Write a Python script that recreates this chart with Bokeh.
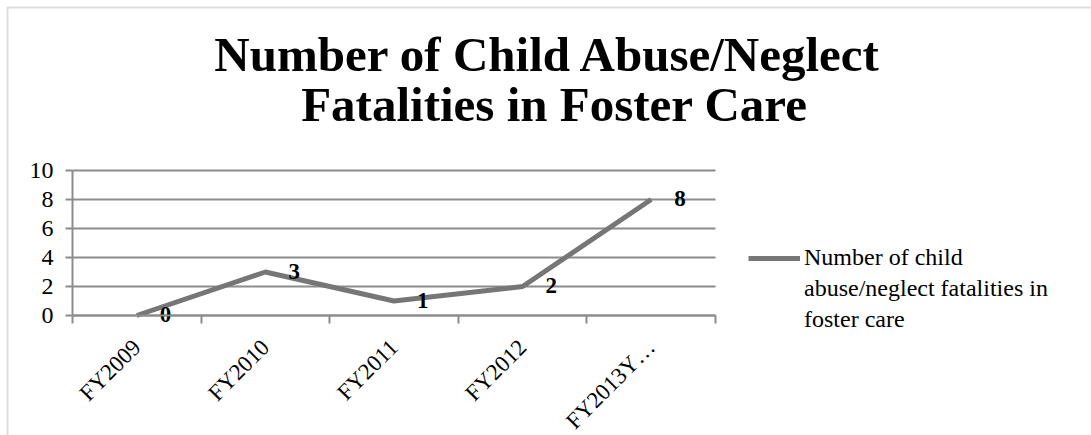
from bokeh.plotting import figure
from bokeh.models import (FixedTicker, Legend, LegendItem, Range1d, Label,
                          ColumnDataSource, BoxAnnotation, LinearAxis)
from bokeh.core.properties import value
from bokeh.embed import file_html
from bokeh.resources import INLINE

categories = ["FY2009", "FY2010", "FY2011", "FY2012", "FY2013Y\u2026"]
fatalities = [0, 3, 1, 2, 8]
y_ticks = [0, 2, 4, 6, 8, 10]
y_max = 10
title_text = "Number of  Child Abuse/Neglect\nFatalities in Foster Care"
legend_lines = ["Number of child", "abuse/neglect fatalities in", "foster care"]

FONT = "Liberation Serif"
GRID = "#8c8c8c"
LINE = "#767676"

W, H = 1091, 435
# plot-area placement in pixels (layout only)
PX_L, PX_R, PX_T, PX_B = 72, 715, 170, 315
n = len(categories)
sx = (PX_R - PX_L) / n
sy = (PX_B - PX_T) / y_max
x_range = Range1d(-PX_L / sx, (W - PX_L) / sx)
y_range = Range1d(-(H - PX_B) / sy, PX_B / sy)

xs = [i + 0.5 for i in range(n)]
src = ColumnDataSource(data=dict(x=xs, y=fatalities,
                                 lbl=[str(v) for v in fatalities]))
grid_src = ColumnDataSource(data=dict(x0=[0] * len(y_ticks), x1=[n] * len(y_ticks),
                                      y=y_ticks))

p = figure(width=W, height=H, output_backend="svg", toolbar_location=None,
           x_range=x_range, y_range=y_range, min_border=0, title=None,
           x_axis_location=None, y_axis_location=None)
p.outline_line_color = None
p.background_fill_color = "white"
p.border_fill_color = "white"
p.xgrid.visible = False
p.ygrid.visible = False

# outer chart border (top + left visible)
p.add_layout(BoxAnnotation(left=7, right=W + 50, bottom=-50, top=H - 7,
                           left_units="screen", right_units="screen",
                           bottom_units="screen", top_units="screen",
                           fill_alpha=0, line_color=GRID, line_width=2))

# horizontal gridlines
p.segment(x0="x0", x1="x1", y0="y", y1="y", source=grid_src,
          line_color=GRID, line_width=2)

yaxis = LinearAxis(fixed_location=0, bounds=(0, y_max), ticker=FixedTicker(ticks=y_ticks))
yaxis.axis_line_color = GRID
yaxis.axis_line_width = 2
yaxis.major_tick_line_color = GRID
yaxis.major_tick_line_width = 2
yaxis.major_tick_out = 7
yaxis.major_tick_in = 0
yaxis.minor_tick_line_color = None
yaxis.major_label_text_font = FONT
yaxis.major_label_text_font_size = "24px"
yaxis.major_label_text_color = "black"
yaxis.major_label_standoff = 12
p.add_layout(yaxis, "left")

xaxis = LinearAxis(fixed_location=0, bounds=(0, n),
                   ticker=FixedTicker(ticks=xs, minor_ticks=list(range(n + 1))))
xaxis.major_label_overrides = {x: c for x, c in zip(xs, categories)}
xaxis.axis_line_color = GRID
xaxis.axis_line_width = 2
xaxis.major_tick_line_color = None
xaxis.minor_tick_line_color = GRID
xaxis.minor_tick_line_width = 2
xaxis.minor_tick_out = 8
xaxis.minor_tick_in = 0
xaxis.major_label_orientation = 0.785398
xaxis.major_label_text_font = FONT
xaxis.major_label_text_font_size = "23px"
xaxis.major_label_text_color = "black"
xaxis.major_label_standoff = 20
p.add_layout(xaxis, "below")

r = p.line("x", "y", source=src, line_color=LINE, line_width=5)
dummy = p.line([], [], line_alpha=0)

p.text("x", "y", text="lbl", source=src, x_offset=23, y_offset=-1,
       text_align="left", text_baseline="middle", text_font=value(FONT),
       text_font_size="23px", text_font_style="bold", text_color="black")

p.add_layout(Label(x=554, y=H - 79, x_units="screen", y_units="screen",
                   text=title_text, text_align="center", text_baseline="middle",
                   text_font=FONT, text_font_size="49px", text_font_style="bold",
                   text_color="black", text_line_height=0.9))

legend = Legend(items=[LegendItem(label=legend_lines[0], renderers=[r]),
                       LegendItem(label=legend_lines[1], renderers=[dummy]),
                       LegendItem(label=legend_lines[2], renderers=[dummy])],
                location=(748, H - 333))
legend.padding = 0
legend.margin = 0
legend.spacing = 4
legend.glyph_height = 20
legend.label_height = 20
legend.glyph_width = 52
legend.label_standoff = 4
legend.label_text_font = FONT
legend.label_text_font_size = "24px"
legend.label_text_color = "black"
legend.border_line_alpha = 0
legend.background_fill_alpha = 0
p.add_layout(legend, "center")

open("out.html", "w").write(file_html(p, INLINE))
